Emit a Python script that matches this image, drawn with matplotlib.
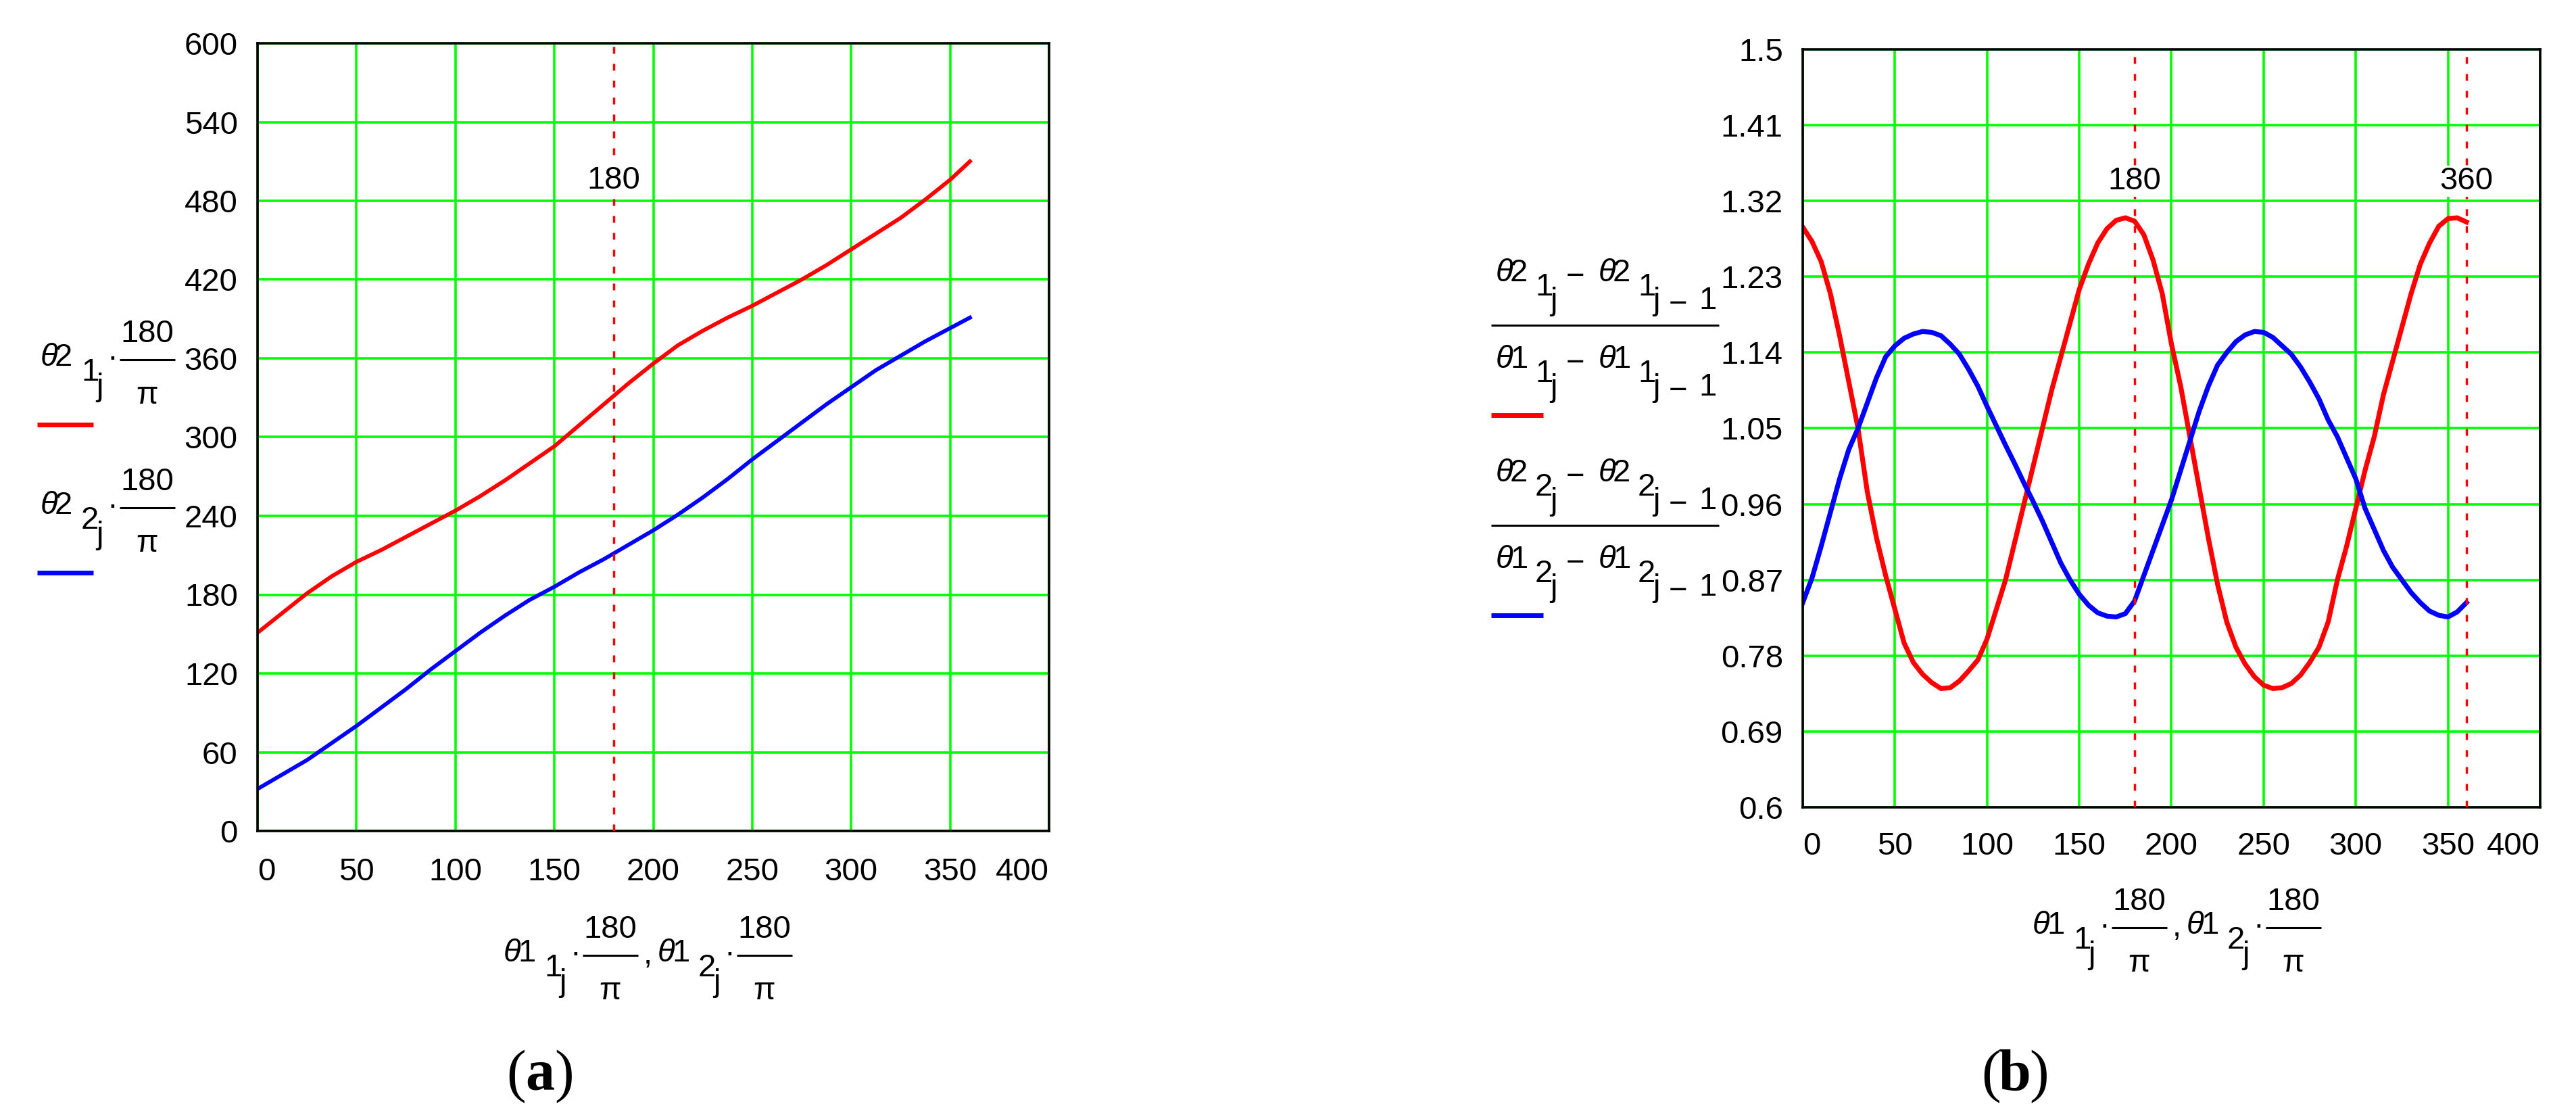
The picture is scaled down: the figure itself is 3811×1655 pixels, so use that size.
import numpy as np
import matplotlib
matplotlib.use('Agg')
import matplotlib.pyplot as plt

# ---- values ----
# (a) output angles theta2 (deg) against input angle theta1 (deg)
theta1_deg = [0, 12.5, 25, 37.5, 50, 62.5, 75, 87.5, 100, 112.5, 125, 137.5,
              150, 162.5, 175, 187.5, 200, 212.5, 225, 237.5, 250, 262.5,
              275, 287.5, 300, 312.5, 325, 337.5, 350, 360]
theta2_1_deg = [151, 166, 181, 194, 205, 214, 224, 234, 244, 255, 267, 280,
                293, 309, 325, 341, 356, 370, 381, 391, 400, 410,
                420, 431, 443, 455, 467, 481, 496, 510]
theta2_2_deg = [32, 43, 54, 67, 80, 94, 108, 123, 137, 151, 164, 176,
                186, 197, 207, 218, 229, 241, 254, 268, 283, 297,
                311, 325, 338, 351, 362, 373, 383, 391]

# (b) ratio of increments
ratio_x = [0, 5, 10, 15, 20, 25, 30, 35, 40, 45, 50, 55, 60, 65, 70, 75, 80, 85,
           90, 95, 100, 105, 110, 115, 120, 125, 130, 135, 140, 145, 150, 155,
           160, 165, 170, 175, 180, 185, 190, 195, 200, 205, 210, 215, 220, 225,
           230, 235, 240, 245, 250, 255, 260, 265, 270, 275, 280, 285, 290, 295,
           300, 305, 310, 315, 320, 325, 330, 335, 340, 345, 350, 355, 360]
ratio_1 = [1.289, 1.272, 1.248, 1.21, 1.16, 1.105, 1.05, 0.975, 0.92, 0.875, 0.835,
           0.795, 0.772, 0.758, 0.748, 0.741, 0.742, 0.75, 0.762, 0.775, 0.80,
           0.835, 0.87, 0.915, 0.96, 1.005, 1.05, 1.095, 1.135, 1.175, 1.215,
           1.245, 1.27, 1.287, 1.297, 1.300, 1.296, 1.28, 1.25, 1.21, 1.15,
           1.10, 1.04, 0.98, 0.92, 0.865, 0.82, 0.79, 0.77, 0.755, 0.745,
           0.741, 0.742, 0.747, 0.757, 0.772, 0.79, 0.82, 0.87, 0.91, 0.955,
           1.0, 1.04, 1.09, 1.13, 1.17, 1.21, 1.245, 1.27, 1.29, 1.299, 1.30,
           1.295]
ratio_2 = [0.843, 0.872, 0.91, 0.95, 0.99, 1.025, 1.05, 1.08, 1.11, 1.135, 1.148,
           1.157, 1.162, 1.165, 1.164, 1.16, 1.15, 1.138, 1.12, 1.10, 1.076,
           1.053, 1.03, 1.008, 0.985, 0.963, 0.94, 0.915, 0.89, 0.87, 0.853,
           0.84, 0.831, 0.827, 0.826, 0.83, 0.845, 0.875, 0.905, 0.935, 0.965,
           1.0, 1.035, 1.07, 1.10, 1.125, 1.14, 1.153, 1.161, 1.165, 1.164,
           1.158, 1.148, 1.138, 1.123, 1.105, 1.085, 1.06, 1.04, 1.015, 0.99,
           0.955, 0.93, 0.905, 0.885, 0.87, 0.855, 0.843, 0.833, 0.828, 0.826,
           0.832, 0.843]

x_ticks = [0, 50, 100, 150, 200, 250, 300, 350, 400]
y_ticks_a = [0, 60, 120, 180, 240, 300, 360, 420, 480, 540, 600]
y_ticks_b = [0.6, 0.69, 0.78, 0.87, 0.96, 1.05, 1.14, 1.23, 1.32, 1.41, 1.5]
markers_a = [180]
markers_b = [180, 360]

W, H = 3812, 1655
FS = 34
FONT = ['Liberation Sans Narrow', 'Liberation Sans', 'DejaVu Sans']
plt.rcParams['font.family'] = FONT
GREEN = '#00ff00'

fig = plt.figure(figsize=(W / 100, H / 100), dpi=100)
fig.patch.set_facecolor('white')


def setup_axes(rect, ylim, yticks, ypad, xpad):
    ax = fig.add_axes(rect)
    ax.set_xlim(0, 400)
    ax.set_ylim(*ylim)
    ax.set_xticks(x_ticks)
    ax.set_xticklabels([str(v) for v in x_ticks])
    ax.set_yticks(yticks)
    ax.set_yticklabels(['%g' % v for v in yticks])
    ax.tick_params(length=0, labelsize=FS)
    ax.tick_params(axis='y', pad=ypad)
    ax.tick_params(axis='x', pad=xpad)
    labs = ax.get_xticklabels()
    labs[0].set_ha('left')
    labs[-1].set_ha('right')
    ax.grid(True, color=GREEN, lw=2.6)
    ax.set_axisbelow(True)
    for sp in ax.spines.values():
        sp.set_linewidth(2.6)
        sp.set_color('black')
    return ax


def markers(ax, xs):
    for xv in xs:
        ax.axvline(xv, color='red', lw=2.5, ls=(0, (2.9, 4.3)), zorder=3)
        ax.text(xv, 0.826, str(xv), transform=ax.get_xaxis_transform(),
                ha='center', va='center', fontsize=FS, zorder=4,
                bbox=dict(facecolor='white', edgecolor='none', pad=1))


ax1 = setup_axes([381 / W, 1 - 1229 / H, 1171 / W, 1165 / H], (0, 600),
                 y_ticks_a, 21, 28)
ax1.plot(theta1_deg, theta2_1_deg, color='red', lw=4.2, zorder=2)
ax1.plot(theta1_deg, theta2_2_deg, color='blue', lw=4.2, zorder=2)
markers(ax1, markers_a)

ax2 = setup_axes([2667 / W, 1 - 1194 / H, 1091 / W, 1121 / H], (0.6, 1.5),
                 y_ticks_b, 21, 26)
ax2.plot(ratio_x, ratio_1, color='red', lw=5.2, zorder=2)
ax2.plot(ratio_x, ratio_2, color='blue', lw=5.2, zorder=2)
markers(ax2, markers_b)

# ---- Mathcad style expressions, drawn in pixel coordinates ----
ov = fig.add_axes([0, 0, 1, 1])
ov.set_xlim(0, W)
ov.set_ylim(H, 0)
ov.axis('off')


def put(s, x, y, ha='left', **kw):
    ov.text(x, y, s, ha=ha, va='baseline', fontsize=FS, **kw)


def hline(x1, x2, y, color='black', lw=2.2):
    ov.plot([x1, x2], [y, y], color=color, lw=lw, solid_capstyle='butt')


def theta(x, base, var):
    put('θ', x, base, style='italic')
    put(var, x + 21, base)


def angle_term(x, base, var, idx):
    theta(x, base, var)
    put(idx, x + 60, base + 22)
    put('j', x + 82, base + 44)
    put('·', x + 106, base + 1, ha='center')
    hline(x + 117, x + 199, base - 9)
    put('180', x + 158, base - 35, ha='center')
    put('π', x + 158, base + 56, ha='center')


def diff_term(x, base, var, idx):
    theta(x, base, var)
    put(idx, x + 58, base + 21)
    put('j', x + 80, base + 42)
    put('−', x + 118, base + 6, ha='center')
    theta(x + 152, base, var)
    put(idx, x + 210, base + 21)
    put('j', x + 232, base + 42)
    put('−', x + 270, base + 47, ha='center')
    put('1', x + 300, base + 41)


def ratio_term(x0, bar, idx, color):
    diff_term(x0 + 7, bar - 65, '2', idx)
    hline(x0, x0 + 337, bar)
    diff_term(x0 + 7, bar + 63, '1', idx)
    hline(x0, x0 + 77, bar + 133, color=color, lw=5)


def axis_title(x, base):
    angle_term(x, base, '1', '1')
    put(',', x + 207, base + 3)
    angle_term(x + 228, base, '1', '2')


# legend of (a)
angle_term(60, 541, '2', '1')
hline(55, 138, 628, color='red', lw=5)
angle_term(60, 760, '2', '2')
hline(55, 138, 847, color='blue', lw=5)

# legend of (b)
ratio_term(2206, 481, '1', 'red')
ratio_term(2206, 777, '2', 'blue')

axis_title(745, 1422)
axis_title(3007, 1381)

# panel captions
SERIF = ['Liberation Serif', 'DejaVu Serif']
for cx, letter in [(799, 'a'), (2981, 'b')]:
    ov.text(cx - 21, 1612, '(', ha='right', va='baseline', fontsize=62, family=SERIF)
    ov.text(cx, 1612, letter, ha='center', va='baseline', fontsize=62,
            family=SERIF, weight='bold')
    ov.text(cx + 21, 1612, ')', ha='left', va='baseline', fontsize=62, family=SERIF)

fig.savefig('out.png', dpi=100, facecolor='white')
